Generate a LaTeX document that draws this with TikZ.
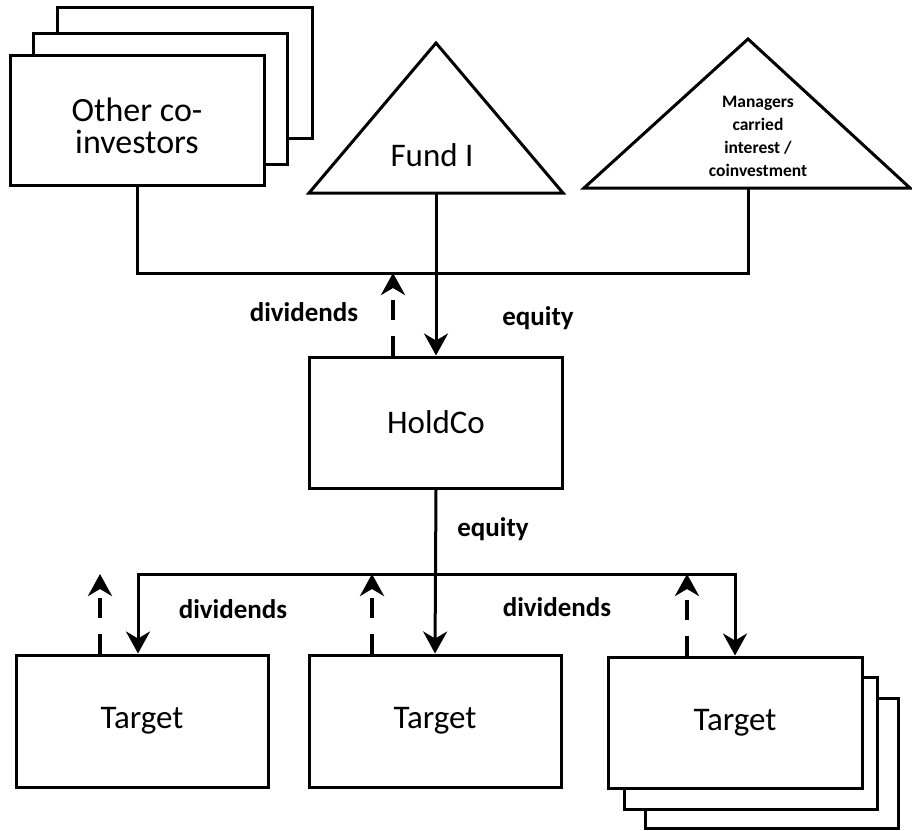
\documentclass[tikz,border=0pt]{standalone}
\usepackage{fontspec}
\setmainfont{Carlito}
\usetikzlibrary{arrows.meta}
\tikzset{
  box/.style={draw, line width=3pt, fill=white, inner sep=0pt, align=center,
    font=\fontsize{33}{32}\selectfont},
  tri/.style={draw, line width=3pt, line join=miter, fill=white},
  conn/.style={line width=3pt, line join=miter},
  arr/.style={line width=3pt, line join=miter, -{Stealth[length=22pt,width=24pt,inset=7pt]}},
  darr/.style={line width=4pt, dash pattern=on 20pt off 16pt, -{Stealth[length=22pt,width=24pt,inset=7pt]}},
  lbl/.style={font=\bfseries\fontsize{27}{28}\selectfont, inner sep=0pt},
  txt/.style={inner sep=0pt, align=center}
}
\begin{document}
\begin{tikzpicture}[x=1pt, y=-1pt]
\useasboundingbox (0,0) rectangle (912,830);

% Other co-investors stack
\node[box, minimum width=255, minimum height=131] (oci3) at (184.5,72.5) {};
\node[box, minimum width=254, minimum height=131] (oci2) at (160,98.5) {};
\node[box, minimum width=254, minimum height=130] (oci) at (137,120) {};
\node[txt, font=\fontsize{34}{32}\selectfont] (ocitext) at (137,126) {Other co-\\investors};

% Fund I triangle
\coordinate (fundbase) at (436,193);
\draw[tri] (309,193) -- (436,43) -- (563,193) -- cycle;
\node[txt, font=\fontsize{33}{32}\selectfont] (fund) at (432,155) {Fund I};

% Managers triangle
\coordinate (mgrbase) at (748,188);
\draw[tri] (584,188) -- (748,39) -- (910,188) -- cycle;
\node[txt, font=\bfseries\fontsize{17.5}{23}\selectfont] (mgr) at (758,136) {Managers\\carried\\interest /\\coinvestment};

% HoldCo
\node[box, minimum width=253, minimum height=131] (holdco) at (436,422.5) {HoldCo};

% upper bus
\coordinate (busR) at (748,273);
\coordinate (div0) at (393,273);
\draw[conn] (oci.south) -- (oci.south |- busR) -- (busR) -- (mgrbase);
\draw[arr] (fundbase) -- (holdco.north);
\draw[darr] (holdco.north -| div0) -- (div0);
\node[lbl] (ldiv0) at (304,312) {dividends};
\node[lbl] (leq0) at (538,318) {equity};

% Targets
\node[box, minimum width=252, minimum height=132] (t1) at (142,721) {Target};
\node[box, minimum width=252, minimum height=132] (t2) at (435,721) {Target};
\node[box, minimum width=253, minimum height=130] (t3c) at (771.5,763) {};
\node[box, minimum width=253, minimum height=132] (t3b) at (750.5,743) {};
\node[box, minimum width=254, minimum height=131] (t3) at (735,722.5) {Target};

% lower bus
\coordinate (lbL) at (138,574);
\coordinate (lbR) at (735,574);
\draw[arr] (holdco.south) -- (t2.north);
\draw[arr] (lbR) -- (lbL) -- (lbL |- t1.north);
\draw[arr] (lbL) -- (lbR) -- (t3.north);
\coordinate (d1) at (100,574);
\coordinate (d2) at (372,574);
\coordinate (d3) at (687,574);
\draw[darr] (d1 |- t1.north) -- (d1);
\draw[darr] (d2 |- t2.north) -- (d2);
\draw[darr] (d3 |- t3.north) -- (d3);
\node[lbl] (leq1) at (493,529) {equity};
\node[lbl] (ldiv1) at (233,609) {dividends};
\node[lbl] (ldiv2) at (557,607) {dividends};
\end{tikzpicture}
\end{document}
